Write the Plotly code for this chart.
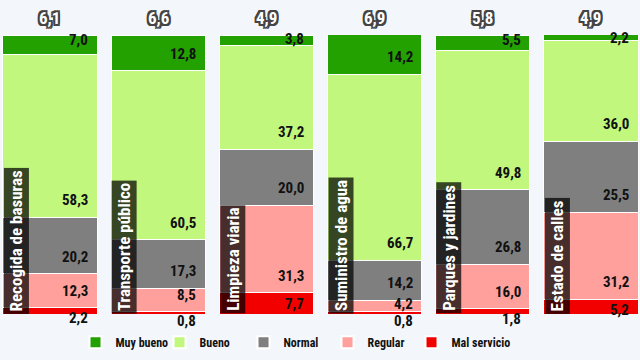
import plotly.graph_objects as go

categorias = ["Recogida de basuras", "Transporte público", "Limpieza viaria",
              "Suministro de agua", "Parques y jardines", "Estado de calles"]
puntuacion = [6.1, 6.6, 4.9, 6.9, 5.8, 4.9]
mal_servicio = [2.2, 0.8, 7.7, 0.8, 1.8, 5.2]
regular = [12.3, 8.5, 31.3, 4.2, 16.0, 31.2]
normal = [20.2, 17.3, 20.0, 14.2, 26.8, 25.5]
bueno = [58.3, 60.5, 37.2, 66.7, 49.8, 36.0]
muy_bueno = [7.0, 12.8, 3.8, 14.2, 5.5, 2.2]

series = [
    ("Mal servicio", mal_servicio, "#f20000"),
    ("Regular", regular, "#ffa09c"),
    ("Normal", normal, "#7f7f7f"),
    ("Bueno", bueno, "#c0f77c"),
    ("Muy bueno", muy_bueno, "#22a100"),
]

FONT = "Roboto Condensed, Liberation Sans Narrow, Roboto, sans-serif"
BAR_W = 0.87
xs = list(range(len(categorias)))

def fmt(v):
    return f"{v:.1f}".replace(".", ",")

fig = go.Figure()
# invisible spacer entry so the last legend label is not clipped
fig.add_trace(go.Bar(x=[None], y=[None], name=" ", showlegend=True,
                     marker=dict(color="rgba(0,0,0,0)",
                                 line=dict(width=0, color="rgba(0,0,0,0)")),
                     hoverinfo="skip"))
for name, vals, color in series:
    fig.add_trace(go.Bar(
        x=xs, y=vals, name=f"<b>{name}</b>", width=BAR_W,
        marker=dict(color=color, line=dict(color="white", width=1)),
        hoverinfo="skip",
    ))

annotations = []
# value labels
base = [0.0] * len(categorias)
for k, (name, vals, color) in enumerate(series):
    for i, v in enumerate(vals):
        shift = min(v * 2.5 - 3, 17) - (6 if k == 0 else 0)
        annotations.append(dict(
            x=i + BAR_W / 2, y=base[i], xref="x", yref="y",
            text=f"<b>{fmt(v)}</b>", showarrow=False,
            xanchor="right", yanchor="middle", xshift=-7, yshift=shift,
            font=dict(family=FONT, size=15, color="#111111"),
        ))
        base[i] += v

# score badges on top
outline = ("2px 2px 0 #444, -2px -2px 0 #444, 2px -2px 0 #444, -2px 2px 0 #444, "
           "0 2px 0 #444, 0 -2px 0 #444, 2px 0 0 #444, -2px 0 0 #444")
for i, p in enumerate(puntuacion):
    annotations.append(dict(
        x=i, y=100, xref="x", yref="y",
        text=f"<b>{fmt(p)}</b>", showarrow=False,
        xanchor="center", yanchor="middle", yshift=17,
        font=dict(family=FONT, size=17, color="white", shadow=outline),
    ))

# category labels (vertical)
for i, c in enumerate(categorias):
    annotations.append(dict(
        x=i - BAR_W / 2, y=0, xref="x", yref="y",
        text=f"<b>{c}</b>", showarrow=False, textangle=-90,
        xanchor="left", yanchor="bottom",
        bgcolor="rgba(0,0,0,0.72)", borderpad=2,
        font=dict(family=FONT, size=17, color="white"),
    ))

fig.update_layout(
    width=640, height=360,
    barmode="stack", bargap=0.13,
    paper_bgcolor="#f3f7fb", plot_bgcolor="#f3f7fb",
    margin=dict(l=0, r=0, t=35, b=46, autoexpand=False),
    xaxis=dict(range=[-0.462, 5.453], showgrid=False, zeroline=False,
               showticklabels=False, fixedrange=True),
    yaxis=dict(range=[0, 100], showgrid=False, zeroline=False,
               showticklabels=False, fixedrange=True),
    showlegend=True,
    legend=dict(orientation="h", traceorder="reversed",
                x=0.118, xanchor="left", y=-0.049, yanchor="top",
                entrywidth=39, entrywidthmode="pixels",
                itemsizing="constant",
                font=dict(family=FONT, size=12, color="#111111"),
                bgcolor="rgba(0,0,0,0)"),
    annotations=annotations,
)

fig.write_html("out.html", config={"displayModeBar": False},
               post_script="document.body.style.margin='0';")
